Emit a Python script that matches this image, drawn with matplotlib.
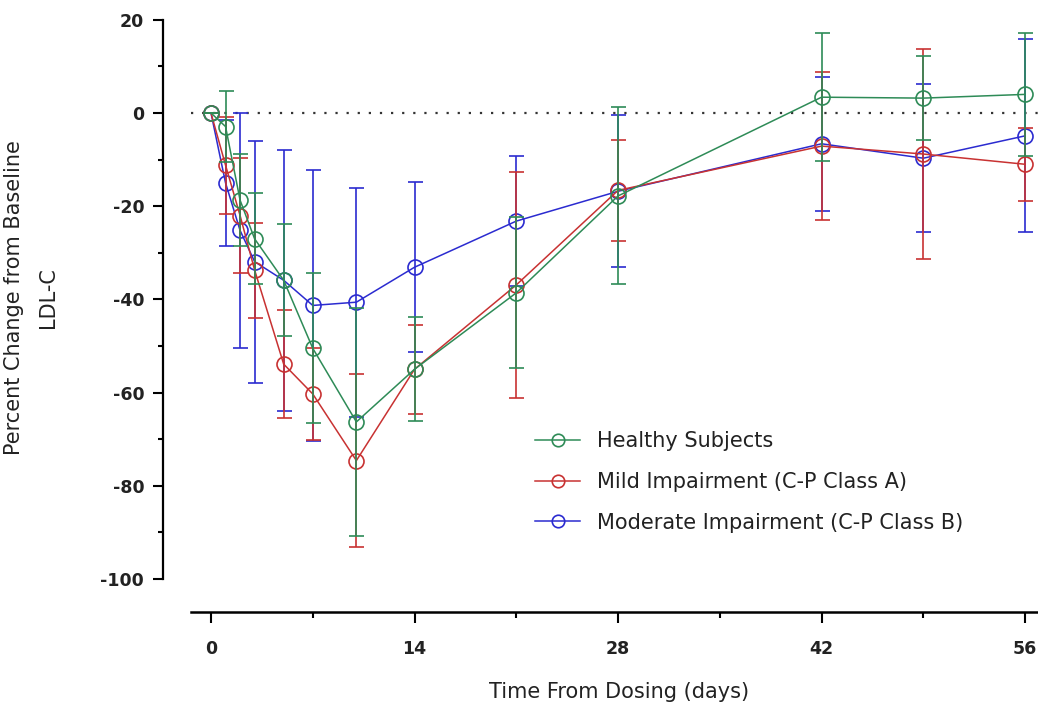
import matplotlib
matplotlib.use("Agg")
import matplotlib.pyplot as plt
from matplotlib.lines import Line2D

# ---------------- data ----------------
days = [0, 1, 2, 3, 5, 7, 10, 14, 21, 28, 42, 49, 56]

healthy_mean = [0, -2.9, -18.7, -27.0, -35.9, -50.5, -66.3, -55.0, -38.6, -17.8, 3.4, 3.2, 4.0]
healthy_sd = [0, 7.6, 9.9, 9.8, 12.0, 16.1, 24.5, 11.2, 16.2, 19.0, 13.8, 9.0, 13.2]

mild_mean = [0, -11.2, -22.0, -33.7, -53.9, -60.3, -74.6, -55.0, -36.9, -16.6, -7.1, -8.8, -11.0]
mild_sd = [0, 10.4, 12.4, 10.2, 11.6, 9.9, 18.5, 9.6, 24.2, 10.9, 15.8, 22.5, 7.8]

moderate_mean = [0, -15.0, -25.2, -31.9, -35.9, -41.3, -40.6, -33.1, -23.2, -16.8, -6.6, -9.7, -4.9]
moderate_sd = [0, 13.5, 25.2, 26.0, 28.0, 29.1, 24.6, 18.2, 14.0, 16.3, 14.4, 15.9, 20.7]

series_labels = ["Healthy Subjects",
                 "Mild Impairment (C-P Class A)",
                 "Moderate Impairment (C-P Class B)"]

x_ticks = [0, 14, 28, 42, 56]
x_tick_labels = ["0", "14", "28", "42", "56"]
x_minor = [7, 21, 35, 49]
y_ticks = [20, 0, -20, -40, -60, -80, -100]
y_tick_labels = ["20", "0", "-20", "-40", "-60", "-80", "-100"]
y_minor = [10, -10, -30, -50, -70, -90]

x_label = "Time From Dosing (days)"
y_label = "Percent Change from Baseline\nLDL-C"

# ---------------- styling ----------------
colors = {"Healthy Subjects": "#2E8B57",
          "Mild Impairment (C-P Class A)": "#C83232",
          "Moderate Impairment (C-P Class B)": "#2B2BD0"}

plt.rcParams["font.family"] = ["DejaVu Sans"]

W, H = 1038, 704
fig = plt.figure(figsize=(W / 100, H / 100), dpi=100)
ax = fig.add_axes([191 / W, 1 - 612 / H, (1038 - 191) / W, (612 - 15) / H])
ax.set_xlim(-1.376, 56.89)
ax.set_ylim(-107.1, 21.04)

for s in ("top", "right"):
    ax.spines[s].set_visible(False)
ax.spines["left"].set_position(("outward", 20.2))
ax.spines["left"].set_bounds(-100, 20)
ax.spines["left"].set_linewidth(1.6)
ax.spines["bottom"].set_linewidth(1.8)

ax.set_xticks(x_ticks)
ax.set_xticklabels(x_tick_labels, fontweight="bold", fontsize=12.5, color="#222222")
ax.set_xticks(x_minor, minor=True)
ax.set_yticks(y_ticks)
ax.set_yticklabels(y_tick_labels, fontweight="bold", fontsize=12.5, color="#222222")
ax.set_yticks(y_minor, minor=True)

ax.tick_params(axis="x", which="major", length=8, width=1.5, pad=12)
ax.tick_params(axis="x", which="minor", length=4.5, width=1.5)
ax.tick_params(axis="y", which="major", length=7, width=1.5, pad=6.5)
ax.tick_params(axis="y", which="minor", length=3.5, width=1.5)

# dotted zero reference line
ax.axhline(0, color="#333333", lw=1.6, ls=(0, (1, 4)), zorder=1)

groups = [
    ("Moderate Impairment (C-P Class B)", moderate_mean, moderate_sd, 2),
    ("Mild Impairment (C-P Class A)", mild_mean, mild_sd, 3),
    ("Healthy Subjects", healthy_mean, healthy_sd, 4),
]
for label, mean, sd, z in groups:
    c = colors[label]
    ax.errorbar(days, mean, yerr=sd, fmt="none", ecolor=c, elinewidth=1.2,
                capsize=5.4, capthick=1.2, zorder=z)
    ax.plot(days, mean, color=c, lw=1.1, marker="o", ms=10.8, mfc="none",
            mec=c, mew=1.2, zorder=z + 0.5)

handles = [Line2D([], [], color=colors[l], lw=1.1, marker="o", ms=9,
                  mfc="none", mec=colors[l], mew=1.2) for l in series_labels]
fig.legend(handles, series_labels, loc="upper left",
           bbox_to_anchor=(535 / W, 1 - 431 / H), frameon=False,
           borderpad=0, borderaxespad=0, handlelength=2.16,
           handletextpad=0.82, labelspacing=1.0,
           prop={"size": 15}, labelcolor="#222222")

ax.set_xlabel(x_label, fontsize=15, color="#222222")
ax.xaxis.set_label_coords((619 - 191) / 847, (612 - 692) / 597)
ax.xaxis.label.set_va("center")

ax.set_ylabel(y_label, fontsize=15, color="#222222", linespacing=1.9)
ax.yaxis.set_label_coords((31 - 191) / 847, (612 - 298) / 597)
ax.yaxis.label.set_va("center")

fig.savefig("out.png", dpi=100)
